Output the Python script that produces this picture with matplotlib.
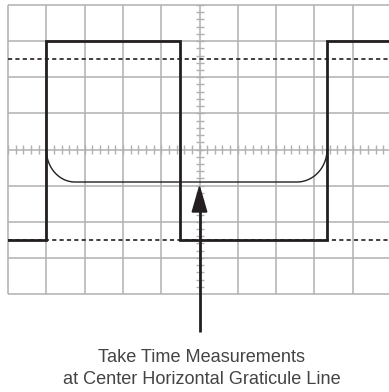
import numpy as np
import matplotlib
matplotlib.use("Agg")
import matplotlib.pyplot as plt
from matplotlib.patches import Polygon

plt.rcParams['font.family'] = ['Liberation Sans', 'DejaVu Sans']
plt.rcParams['lines.scale_dashes'] = False

# ---- data (graticule divisions) ----
n_xdiv = 10
n_ydiv = 8
wave_edges = [1.0, 4.5, 8.33]          # transition times of square wave
wave_high = 7.0
wave_low = 1.5
ref_levels = [6.5, 1.5]                # dashed reference lines
center_level = 4.0                     # center horizontal graticule
settle_level = 3.1                     # flat level of the rounded trace
corner_rx = [0.75, 0.79]
arrow_x = 5.0
arrow_tip = 2.97
arrow_tail = -1.05
caption = ["Take Time Measurements", "at Center Horizontal Graticule Line"]

W, H = 389, 392
fig = plt.figure(figsize=(W / 100, H / 100), dpi=100)
ax = fig.add_axes([8 / W, 98 / H, 383 / W, 289 / H])
ax.set_xlim(0, n_xdiv)
ax.set_ylim(0, n_ydiv)
ax.axis('off')

grid_c = '#b0b0b0'
ink = '#231f20'

# graticule
ax.vlines(np.arange(n_xdiv + 1), 0, n_ydiv, color=grid_c, lw=1.1, zorder=1, clip_on=False)
ax.hlines(np.arange(n_ydiv + 1), 0, n_xdiv, color=grid_c, lw=1.1, zorder=1, clip_on=False)

# minor ticks on center axes
px_x = 38.3
px_y = 36.1
tx = np.arange(0, n_xdiv + 0.001, 0.2)
ax.vlines(tx, center_level - 4 / px_y, center_level + 4 / px_y, color=grid_c, lw=1.0, zorder=1)
ty = np.arange(0, n_ydiv + 0.001, 0.2)
ax.hlines(ty, arrow_x - 4 / px_x, arrow_x + 4 / px_x, color=grid_c, lw=1.0, zorder=1)

# dashed reference levels
for lv in ref_levels:
    ax.plot([0, n_xdiv], [lv, lv], color=ink, lw=1.2, dashes=(3.0, 2.3), zorder=2)

# square wave
xs = [0]
ys = [wave_low]
level = wave_low
for e in wave_edges:
    xs += [e, e]
    nxt = wave_high if level == wave_low else wave_low
    ys += [level, nxt]
    level = nxt
xs.append(n_xdiv + 0.5)
ys.append(level)
ax.plot(xs, ys, color=ink, lw=2.0, solid_joinstyle='miter', zorder=3, clip_on=True)

# rounded trace
ry = center_level - settle_level
t = np.linspace(0, np.pi / 2, 60)
x1 = (wave_edges[0] + corner_rx[0]) - corner_rx[0] * np.cos(t)
y1 = center_level - ry * np.sin(t)
x2 = (wave_edges[2] - corner_rx[1]) + corner_rx[1] * np.cos(t[::-1])
y2 = center_level - ry * np.sin(t[::-1])
cx = np.concatenate([x1, x2])
cy = np.concatenate([y1, y2])
ax.plot(cx, cy, color=ink, lw=1.0, zorder=3)

# arrow
head_len = 0.70
head_half = 0.19
ax.plot([arrow_x, arrow_x], [arrow_tail, arrow_tip - head_len + 0.05], color=ink,
        lw=2.0, solid_capstyle='butt', clip_on=False, zorder=4)
ax.add_patch(Polygon([[arrow_x, arrow_tip],
                      [arrow_x - head_half, arrow_tip - head_len],
                      [arrow_x + head_half, arrow_tip - head_len]],
                     closed=True, color=ink, clip_on=False, zorder=4))

# caption
fig.text(202 / W, 1 - 358 / H, caption[0], ha='center', va='center',
         fontsize=13.1, color='#444444')
fig.text(202 / W, 1 - 379 / H, caption[1], ha='center', va='center',
         fontsize=13.1, color='#444444')

fig.savefig('out.png', dpi=100)
